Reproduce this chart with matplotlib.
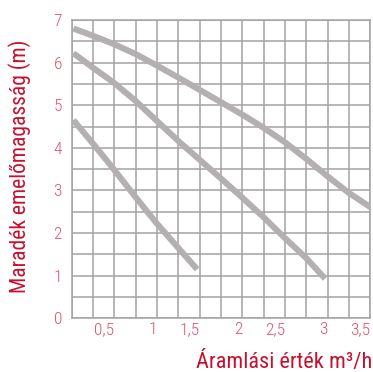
import matplotlib
matplotlib.use("Agg")
import matplotlib.pyplot as plt
from matplotlib import font_manager
import numpy as np

# Pump curves (flow m3/h, head m)
flow_a = [0.02, 0.25, 0.5, 0.75, 1.0, 1.25, 1.5, 1.75, 2.0, 2.25, 2.5, 2.75, 3.0, 3.25, 3.5]
head_a = [6.80, 6.63, 6.43, 6.20, 5.93, 5.65, 5.36, 5.07, 4.78, 4.47, 4.13, 3.74, 3.33, 2.94, 2.61]

flow_b = [0.02, 0.25, 0.5, 0.75, 1.0, 1.25, 1.5, 1.75, 2.0, 2.25, 2.5, 2.75, 2.97]
head_b = [6.22, 5.88, 5.52, 5.10, 4.63, 4.16, 3.72, 3.28, 2.83, 2.37, 1.88, 1.41, 0.93]

flow_c = [0.02, 0.25, 0.5, 0.75, 1.0, 1.25, 1.47]
head_c = [4.65, 4.10, 3.48, 2.84, 2.22, 1.65, 1.15]

x_ticks = [0.5, 1, 1.5, 2, 2.5, 3, 3.5]
x_tick_labels = ["0,5", "1", "1,5", "2", "2,5", "3", "3,5"]
y_ticks = [0, 1, 2, 3, 4, 5, 6, 7]

red = "#c8102e"
tick_red = "#e2506c"
grid_gray = "#a3a3a3"
curve_gray = "#b4b0b1"

# pick a narrow font if one is installed
names = {f.name for f in font_manager.fontManager.ttflist}
font = ["DejaVu Sans"]
stretch = "normal"
for cand in ["Liberation Sans Narrow", "Roboto Condensed", "Open Sans Condensed", "Noto Sans Condensed"]:
    if cand in names:
        font = [cand, "DejaVu Sans"]
        break
else:
    for f in font_manager.fontManager.ttflist:
        if f.stretch in ("condensed", "semi-condensed", 500, 300) and f.name in ("Roboto", "Open Sans", "Noto Sans", "DejaVu Sans"):
            font = [f.name, "DejaVu Sans"]
            stretch = f.stretch
            break

fig = plt.figure(figsize=(3.73, 3.72), dpi=100)
ax = fig.add_axes([0.1922, 0.1444, 0.8006, 0.8018])

for fx, hy in [(flow_a, head_a), (flow_b, head_b), (flow_c, head_c)]:
    ax.plot(fx, hy, color=curve_gray, lw=4.4, solid_capstyle="butt", solid_joinstyle="round", zorder=3)

ax.set_xlim(0, 3.5)
ax.set_ylim(0, 7)
ax.set_xticks(x_ticks)
ax.set_xticklabels(x_tick_labels, ha="right", fontfamily=font, fontstretch=stretch,
                   fontweight="light", fontsize=12.5, color=tick_red)
ax.set_yticks(y_ticks)
ax.set_yticklabels([str(v) for v in y_ticks], fontfamily=font, fontstretch=stretch,
                   fontweight="light", fontsize=12.5, color=tick_red)
ax.set_xticks(np.arange(0, 3.51, 0.25), minor=True)
ax.set_yticks(np.arange(0, 7.01, 0.5), minor=True)
ax.grid(which="both", color=grid_gray, lw=1.1)
ax.set_axisbelow(True)
ax.tick_params(which="both", length=0)
ax.tick_params(axis="y", pad=7)
ax.tick_params(axis="x", pad=3)

for s in ax.spines.values():
    s.set_color(grid_gray)
    s.set_linewidth(1.1)

fig.text(0.052, 0.554, "Maradék emelőmagasság (m)", rotation=90, ha="center", va="center",
         color=red, fontsize=15.5, fontfamily=font, fontstretch=stretch)
fig.text(0.998, 0.011, "Áramlási érték m³/h", ha="right", va="baseline",
         color=red, fontsize=16, fontfamily=font, fontstretch=stretch)

fig.savefig("out.png", dpi=100)
